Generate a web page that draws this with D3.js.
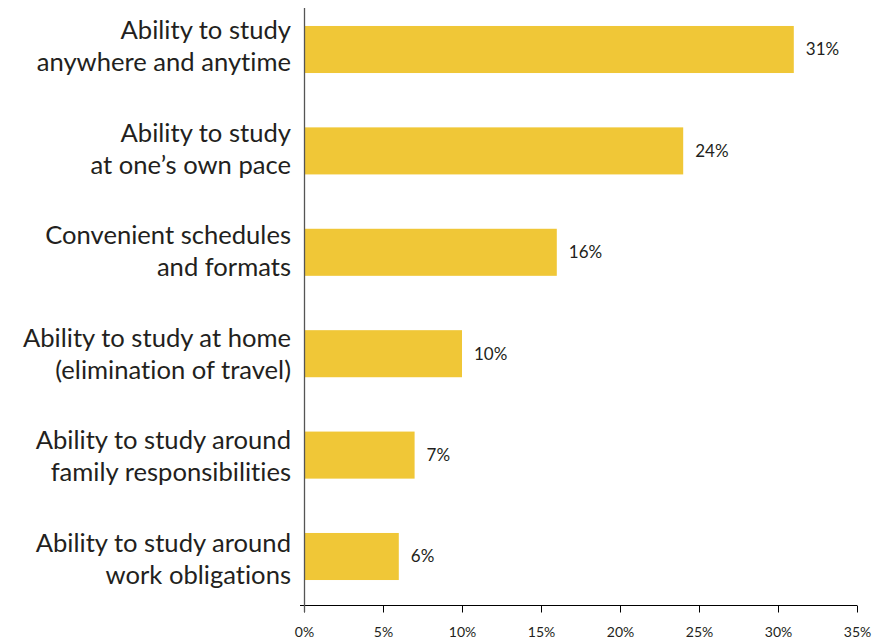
<!DOCTYPE html>
<html>
<head>
<meta charset="utf-8">
<script src="https://cdn.jsdelivr.net/npm/d3@7"></script>
<style>
  html, body { margin: 0; padding: 0; background: #ffffff; }
  svg { display: block; }
  text { font-variant-ligatures: none; font-feature-settings: "liga" 0, "clig" 0; }
</style>
</head>
<body>
<svg id="chart" width="876" height="643"></svg>
<script>
const categories = [
  ["Ability to study", "anywhere and anytime"],
  ["Ability to study", "at one\u2019s own pace"],
  ["Convenient schedules", "and formats"],
  ["Ability to study at home", "(elimination of travel)"],
  ["Ability to study around", "family responsibilities"],
  ["Ability to study around", "work obligations"]
];
const values = [31, 24, 16, 10, 7, 6];
const tickValues = [0, 5, 10, 15, 20, 25, 30, 35];

const svg = d3.select("#chart");
const font = "Lato, 'Open Sans', sans-serif";

const x = d3.scaleLinear().domain([0, 35]).range([304, 857]);
const y = d3.scaleBand()
  .domain(d3.range(categories.length))
  .range([-1.2, 607.2])
  .paddingInner(0.536)
  .paddingOuter(0.268);
// label block centres (evenly spaced, as in the reference)
const yLab = d3.scalePoint()
  .domain(d3.range(categories.length))
  .range([46, 559]);

// bars
svg.append("g").selectAll("rect")
  .data(values)
  .join("rect")
  .attr("x", x(0))
  .attr("y", (d, i) => y(i))
  .attr("width", d => x(d) - x(0))
  .attr("height", y.bandwidth())
  .attr("fill", "#F0C737");

// value labels
svg.append("g").selectAll("text")
  .data(values)
  .join("text")
  .attr("x", d => x(d) + 12)
  .attr("y", (d, i) => y(i) + y.bandwidth() / 2)
  .attr("dy", "0.35em")
  .attr("font-family", font)
  .attr("font-size", 17)
  .attr("fill", "#231f20")
  .text(d => d + "%");

// category labels
const lab = svg.append("g").selectAll("text")
  .data(categories)
  .join("text")
  .attr("text-anchor", "end")
  .attr("font-family", font)
  .attr("font-size", 25.6)
  .attr("fill", "#231f20");
lab.each(function(d, i) {
  const cy = yLab(i);
  const t = d3.select(this);
  d.forEach((line, k) => {
    t.append("tspan")
      .attr("x", 291)
      .attr("y", cy + (k === 0 ? -7 : 25))
      .text(line);
  });
});

// x axis
const xAxis = d3.axisBottom(x)
  .tickValues(tickValues)
  .tickFormat(d => d + "%")
  .tickSizeInner(7)
  .tickSizeOuter(0)
  .tickPadding(15);
const gx = svg.append("g")
  .attr("transform", "translate(0,605.5)")
  .call(xAxis);
gx.select(".domain").remove();
gx.append("line")
  .attr("x1", 300).attr("x2", 857)
  .attr("y1", 0).attr("y2", 0)
  .attr("stroke", "#000").attr("stroke-width", 1);
gx.selectAll(".tick line").attr("stroke", "#000");
gx.selectAll(".tick text")
  .attr("font-family", font)
  .attr("font-size", 14)
  .attr("fill", "#231f20");

// y axis line
const yAxis = d3.axisLeft(y).tickValues([]).tickSizeOuter(0);
const gy = svg.append("g")
  .attr("transform", "translate(304.5,0)")
  .call(yAxis);
gy.select(".domain")
  .attr("d", "M0,8V612")
  .attr("stroke", "#555")
  .attr("stroke-width", 1.3);
</script>
</body>
</html>
